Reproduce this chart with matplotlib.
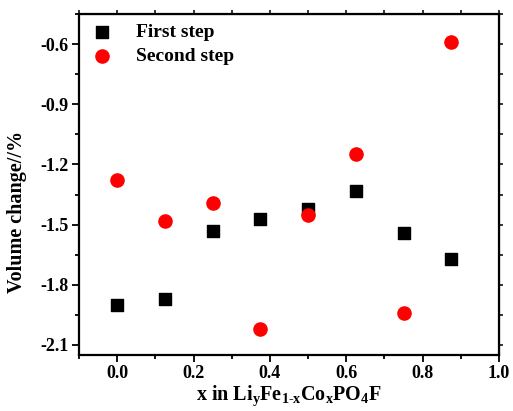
import matplotlib.pyplot as plt
from matplotlib.ticker import MultipleLocator, NullFormatter

plt.rcParams['font.family'] = ['Liberation Serif', 'DejaVu Serif']
plt.rcParams['font.weight'] = 'bold'
plt.rcParams['axes.unicode_minus'] = False
plt.rcParams['mathtext.fontset'] = 'custom'
plt.rcParams['mathtext.rm'] = 'Liberation Serif:bold'
plt.rcParams['mathtext.it'] = 'Liberation Serif:bold'

# Co content x
x = [0.0, 0.125, 0.25, 0.375, 0.5, 0.625, 0.75, 0.875]
# volume change (%) for each delithiation step
first_step = [-1.90, -1.87, -1.53, -1.47, -1.42, -1.33, -1.54, -1.67]
second_step = [-1.28, -1.48, -1.39, -2.02, -1.45, -1.15, -1.94, -0.59]

fig = plt.figure(figsize=(5.13, 4.11), dpi=100)
ax = fig.add_axes([79 / 513, 56 / 411, 420 / 513, 341 / 411])

ax.scatter(x, first_step, marker='s', s=74, color='black', label='First step', zorder=3)
ax.scatter(x, second_step, marker='o', s=90, color='red', label='Second step', zorder=3)

ax.set_xlim(-0.1, 1.0)
ax.set_ylim(-2.15, -0.45)
ax.xaxis.set_major_locator(MultipleLocator(0.2))
ax.xaxis.set_minor_locator(MultipleLocator(0.1))
ax.yaxis.set_major_locator(MultipleLocator(0.3))
ax.yaxis.set_minor_locator(MultipleLocator(0.15))

for s in ax.spines.values():
    s.set_linewidth(1.6)
ax.tick_params(which='both', direction='out', width=1.3, labelsize=13)
ax.tick_params(which='major', length=5, pad=2.5)
ax.tick_params(which='minor', length=3)

# unlabeled short ticks on the top and right frame
top = ax.secondary_xaxis('top')
top.xaxis.set_major_locator(MultipleLocator(0.1))
top.xaxis.set_major_formatter(NullFormatter())
top.tick_params(direction='out', length=3, width=1.1)
right = ax.secondary_yaxis('right')
right.yaxis.set_major_locator(MultipleLocator(0.15))
right.yaxis.set_major_formatter(NullFormatter())
right.tick_params(direction='out', length=3, width=1.1)

ax.set_xlabel(r'x in Li$_\mathregular{y}$Fe$_\mathregular{1\text{-}x}$Co$_\mathregular{x}$PO$_\mathregular{4}$F',
              fontsize=14.5, fontweight='bold', labelpad=1)
ax.set_ylabel('Volume change//%', fontsize=14.5, fontweight='bold')
ax.yaxis.set_label_coords(-0.125, 0.42)

ax.legend(loc='upper left', bbox_to_anchor=(-0.015, 1.0), frameon=False, fontsize=14,
          handletextpad=0.75, borderaxespad=0.2, borderpad=0.3, labelspacing=0.3,
          scatterpoints=1)

fig.savefig('out.png', dpi=100)
